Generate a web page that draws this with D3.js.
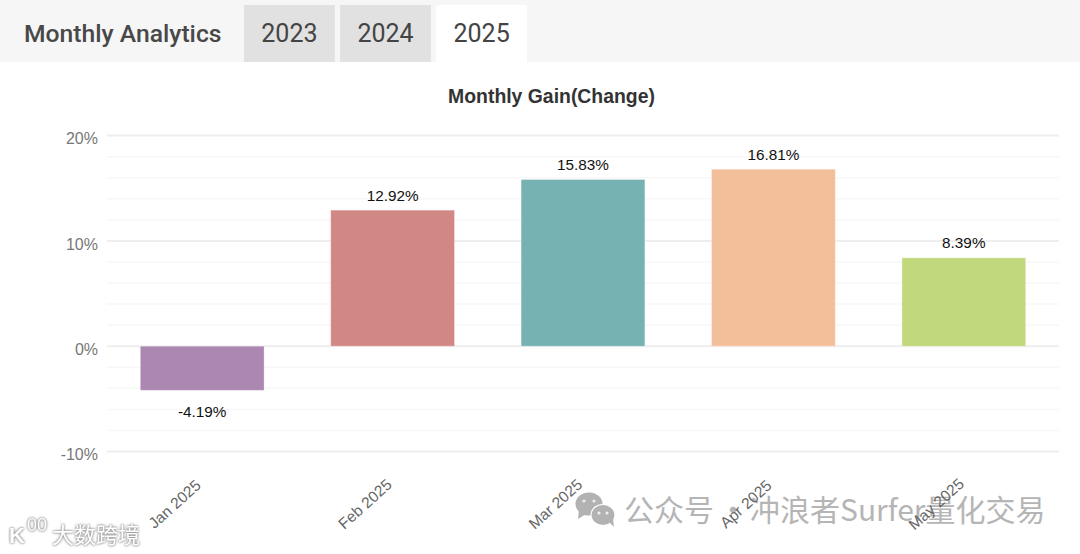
<!DOCTYPE html>
<html><head><meta charset="utf-8">
<script src="https://cdn.jsdelivr.net/npm/d3@7"></script>
<style>html,body{margin:0;padding:0;background:#fff;overflow:hidden}svg{display:block}.logo{filter:drop-shadow(0 0 1.2px #888) drop-shadow(0 0 1px #bbb)}</style>
</head><body><svg id="c" width="1080" height="554"></svg>
<script>
const categories = ["Jan 2025","Feb 2025","Mar 2025","Apr 2025","May 2025"];
const gains = [-4.19,12.92,15.83,16.81,8.39];
const barColors = ["#ab87b1","#d18885","#76b2b2","#f3bf9b","#c2d87c"];
const majorTicks = [20,10,0,-10];
const minorTicks = [18,16,14,12,8,6,4,2,-2,-4,-6,-8];
const tabs = ["2023","2024","2025"];
const svg = d3.select("#c");
const x = d3.scaleBand().domain(categories).range([107,1059]).paddingInner(0.35).paddingOuter(0.175);
const y = d3.scaleLinear().domain([-10,20]).range([451.5,135.6]);

svg.append("rect").attr("width",1080).attr("height",62).attr("fill","#f6f6f6");
svg.append("text").attr("x",24).attr("y",41.5).attr("font-family","Roboto").attr("font-weight",500).attr("font-size",24.7).attr("fill","#484848").text("Monthly Analytics");
const tabX = d3.scaleBand().domain(tabs).range([244,527]).paddingInner(0.055);
tabs.forEach((t,i)=>{
  svg.append("rect").attr("x",tabX(t)).attr("y",5).attr("width",tabX.bandwidth()).attr("height",57).attr("fill",i===2?"#fff":"#e1e1e1");
  svg.append("text").attr("x",tabX(t)+tabX.bandwidth()/2).attr("y",41.5).attr("text-anchor","middle").attr("font-family","Roboto").attr("font-size",25).attr("fill","#444").text(t);
});
svg.append("text").attr("x",551.5).attr("y",102.5).attr("text-anchor","middle").attr("font-family","Liberation Sans").attr("font-weight",700).attr("font-size",19.4).attr("fill","#333").text("Monthly Gain(Change)");

svg.selectAll(".minor").data(minorTicks).join("line").attr("x1",107).attr("x2",1059).attr("y1",d=>y(d)).attr("y2",d=>y(d)).attr("stroke","#f7f7f7").attr("stroke-width",1.5);
svg.selectAll(".major").data(majorTicks).join("line").attr("x1",107).attr("x2",1059).attr("y1",d=>y(d)).attr("y2",d=>y(d)).attr("stroke","#eeeeee").attr("stroke-width",2);
svg.selectAll(".ytl").data(majorTicks).join("text").attr("x",98).attr("y",d=>y(d)+8.8).attr("text-anchor","end").attr("font-family","Liberation Sans").attr("font-size",16).attr("fill","#777").text(d=>d+"%");

svg.selectAll(".bar").data(gains).join("rect").attr("x",(d,i)=>x(categories[i])).attr("width",x.bandwidth())
  .attr("y",d=>y(Math.max(d,0))).attr("height",d=>Math.abs(y(d)-y(0))).attr("fill",(d,i)=>barColors[i]).attr("stroke","#fff").attr("stroke-opacity",.3);
svg.selectAll(".val").data(gains).join("text").attr("x",(d,i)=>x(categories[i])+x.bandwidth()/2)
  .attr("y",d=>d>=0?y(d)-9.5:y(d)+27).attr("text-anchor","middle").attr("font-family","Liberation Sans").attr("font-size",15.3).attr("fill","#111").text(d=>d.toFixed(2)+"%");

// watermarks
const wm = svg.append("g").attr("fill","#b2b2b2");
wm.append("ellipse").attr("cx",589).attr("cy",504).attr("rx",13.5).attr("ry",11.5);
wm.append("path").attr("d","M579 510l-1 9 8-5z");
wm.append("ellipse").attr("cx",603).attr("cy",515).attr("rx",12).attr("ry",10.5).attr("stroke","#fff").attr("stroke-width",1.2);
wm.append("path").attr("d","M609 522l5 5-1-8z");
[[584,501],[594,501],[599,513],[607,513]].forEach(([a,b])=>wm.append("circle").attr("cx",a).attr("cy",b).attr("r",1.6).attr("fill","#eee"));
const wmFont = {"font-family":"Noto Sans CJK SC","font-size":30,"fill":"#b5b5b5"};
const wmText = (tx,tt)=>{const s=svg.append("text").attr("x",tx).attr("y",521).text(tt);Object.entries(wmFont).forEach(([k,v])=>s.attr(k,v));};
wmText(624,"公众号");
wmText(718,"·");
wmText(750,"冲浪者Surfer量化交易");
const logo = svg.append("g").attr("class","logo").attr("fill","#fff");
logo.append("text").attr("x",52).attr("y",543).attr("font-family","Noto Sans CJK SC").attr("font-size",22).text("大数跨境");
logo.append("text").attr("x",9).attr("y",543).attr("font-family","Liberation Sans").attr("font-weight",700).attr("font-size",22).text("K");
logo.append("text").attr("x",27).attr("y",531).attr("font-family","Liberation Sans").attr("font-size",18).text("00");

svg.selectAll(".xl").data(categories).join("text")
  .attr("transform",d=>`translate(${x(d)+x.bandwidth()/2-24},${508}) rotate(-42)`).attr("text-anchor","middle")
  .attr("font-family","Liberation Sans").attr("font-size",15.5).attr("fill","#666").text(d=>d);
</script></body></html>
